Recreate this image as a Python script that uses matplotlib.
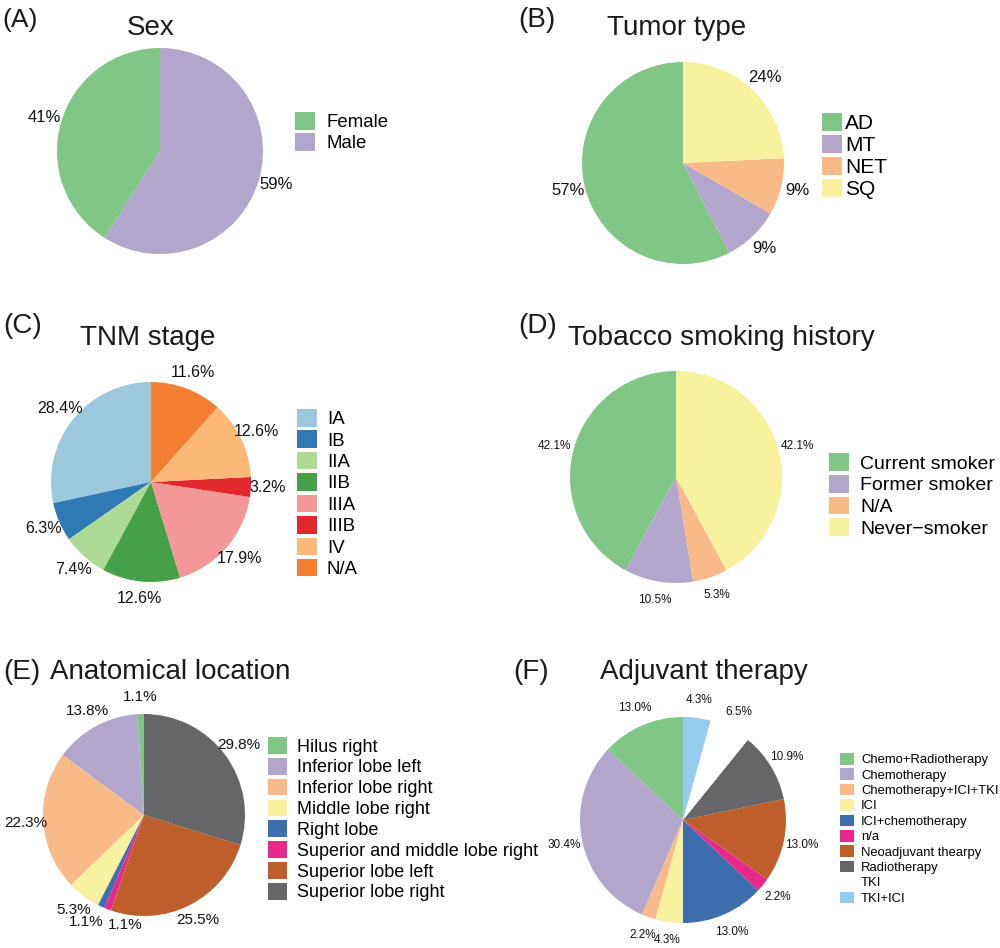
import matplotlib
matplotlib.use("Agg")
import matplotlib.pyplot as plt

plt.rcParams['font.family'] = ['Liberation Sans', 'DejaVu Sans']

W, H = 1000, 948

# ---------------- data ----------------
sex_labels = ["Female", "Male"]
sex_values = [41, 59]

tumor_labels = ["AD", "MT", "NET", "SQ"]
tumor_values = [57, 9, 9, 24]

tnm_labels = ["IA", "IB", "IIA", "IIB", "IIIA", "IIIB", "IV", "N/A"]
tnm_values = [28.4, 6.3, 7.4, 12.6, 17.9, 3.2, 12.6, 11.6]

smoke_labels = ["Current smoker", "Former smoker", "N/A", "Never\u2212smoker"]
smoke_values = [42.1, 10.5, 5.3, 42.1]

loc_labels = ["Hilus right", "Inferior lobe left", "Inferior lobe right",
              "Middle lobe right", "Right lobe", "Superior and middle lobe right",
              "Superior lobe left", "Superior lobe right"]
loc_values = [1.1, 13.8, 22.3, 5.3, 1.1, 1.1, 25.5, 29.8]

adj_labels = ["Chemo+Radiotherapy", "Chemotherapy", "Chemotherapy+ICI+TKI", "ICI",
              "ICI+chemotherapy", "n/a", "Neoadjuvant thearpy", "Radiotherapy",
              "TKI", "TKI+ICI"]
adj_values = [13.0, 30.4, 2.2, 4.3, 13.0, 2.2, 13.0, 10.9, 6.5, 4.3]

# ---------------- colours ----------------
accent = ["#7fc687", "#b3a6cd", "#f9ba89", "#f8f19d", "#3d6faf", "#e8288a",
          "#bd5e2b", "#666669"]
paired = ["#9bc8dc", "#2f7ab5", "#addb94", "#45a047", "#f49799", "#e2282c",
          "#fbb876", "#f47f32"]
adj_colors = accent + ["#ffffff", "#93ccee"]

fig = plt.figure(figsize=(W / 100, H / 100), dpi=100)


def fx(x):
    return x / W


def fy(y):
    return 1 - y / H


def pie_panel(values, labels, colors, fmt, cx, cy, R, pct_fs, ldist,
              leg_x, leg_y, leg_fs, hpx, wpx, row, gap, nudge=None):
    ax = fig.add_axes([fx(cx - R), fy(cy + R), 2 * R / W, 2 * R / H])
    texts = [fmt.format(v) for v in values]
    wedges, ts = ax.pie(values, colors=colors, startangle=90, counterclock=True,
                        labels=texts, labeldistance=ldist,
                        wedgeprops=dict(linewidth=0),
                        textprops=dict(fontsize=pct_fs, color="#111111"))
    for t in ts:
        t.set_ha("center")
    # small pixel nudges to keep crowded labels apart
    if nudge:
        for i, (dx, dy) in nudge.items():
            x0, y0 = ts[i].get_position()
            ts[i].set_position((x0 + dx / R, y0 - dy / R))
    ax.set_xlim(-1, 1)
    ax.set_ylim(-1, 1)
    ax.set_aspect("equal")
    ax.axis("off")
    fs_px = leg_fs * 100 / 72
    txt_h = 0.93 * fs_px
    fig.legend(wedges, labels, loc="upper left",
               bbox_to_anchor=(fx(leg_x), fy(leg_y)),
               frameon=False, fontsize=leg_fs, borderpad=0, borderaxespad=0,
               handleheight=hpx / fs_px, handlelength=wpx / fs_px,
               labelspacing=(row - max(hpx, txt_h)) / fs_px,
               handletextpad=gap / fs_px)
    return ax


# (A) Sex
pie_panel(sex_values, sex_labels, accent[:2], "{:.0f}%", 160, 151, 103, 12, 1.17,
          295, 112, 13.4, 20, 20, 22, 11)
# (B) Tumor type
pie_panel(tumor_values, tumor_labels, accent[:4], "{:.0f}%", 683, 163, 101, 12, 1.17,
          822, 113, 15, 20, 20, 21.7, 3)
# (C) TNM stage
pie_panel(tnm_values, tnm_labels, paired, "{:.1f}%", 151, 482, 100, 11.5, 1.17,
          297, 409, 13.4, 20, 20, 22.3, 10)
# (D) Tobacco smoking history
pie_panel(smoke_values, smoke_labels, accent[:4], "{:.1f}%", 676, 477, 106, 8.5, 1.18,
          829, 453, 14, 20, 20, 22.3, 11)
# (E) Anatomical location
pie_panel(loc_values, loc_labels, accent, "{:.1f}%", 144, 815, 101, 11, 1.17,
          268, 737, 13.0, 19, 19, 21.3, 10, nudge={4: (-8, 0), 5: (24, 0)})
# (F) Adjuvant therapy
pie_panel(adj_values, adj_labels, adj_colors, "{:.1f}%", 683, 820, 103, 8.5, 1.18,
          840, 753, 9.4, 13, 14, 15.1, 7)

# titles and panel letters
title_col = "#1a1a1a"
fig.text(fx(2), fy(27), "(A)", fontsize=19, color=title_col, va="baseline")
fig.text(fx(127), fy(35), "Sex", fontsize=20, color=title_col, va="baseline")
fig.text(fx(518), fy(27), "(B)", fontsize=20, color=title_col, va="baseline")
fig.text(fx(607), fy(35), "Tumor type", fontsize=20, color=title_col, va="baseline")
fig.text(fx(3), fy(333), "(C)", fontsize=20, color=title_col, va="baseline")
fig.text(fx(80), fy(345), "TNM stage", fontsize=20, color=title_col, va="baseline")
fig.text(fx(518), fy(333), "(D)", fontsize=20, color=title_col, va="baseline")
fig.text(fx(568), fy(345), "Tobacco smoking history", fontsize=20.2, color=title_col, va="baseline")
fig.text(fx(3), fy(679), "(E)", fontsize=20, color=title_col, va="baseline")
fig.text(fx(50), fy(679), "Anatomical location", fontsize=20, color=title_col, va="baseline")
fig.text(fx(513), fy(679), "(F)", fontsize=20, color=title_col, va="baseline")
fig.text(fx(600), fy(679), "Adjuvant therapy", fontsize=20, color=title_col, va="baseline")

fig.savefig("out.png", dpi=100, facecolor="white")
